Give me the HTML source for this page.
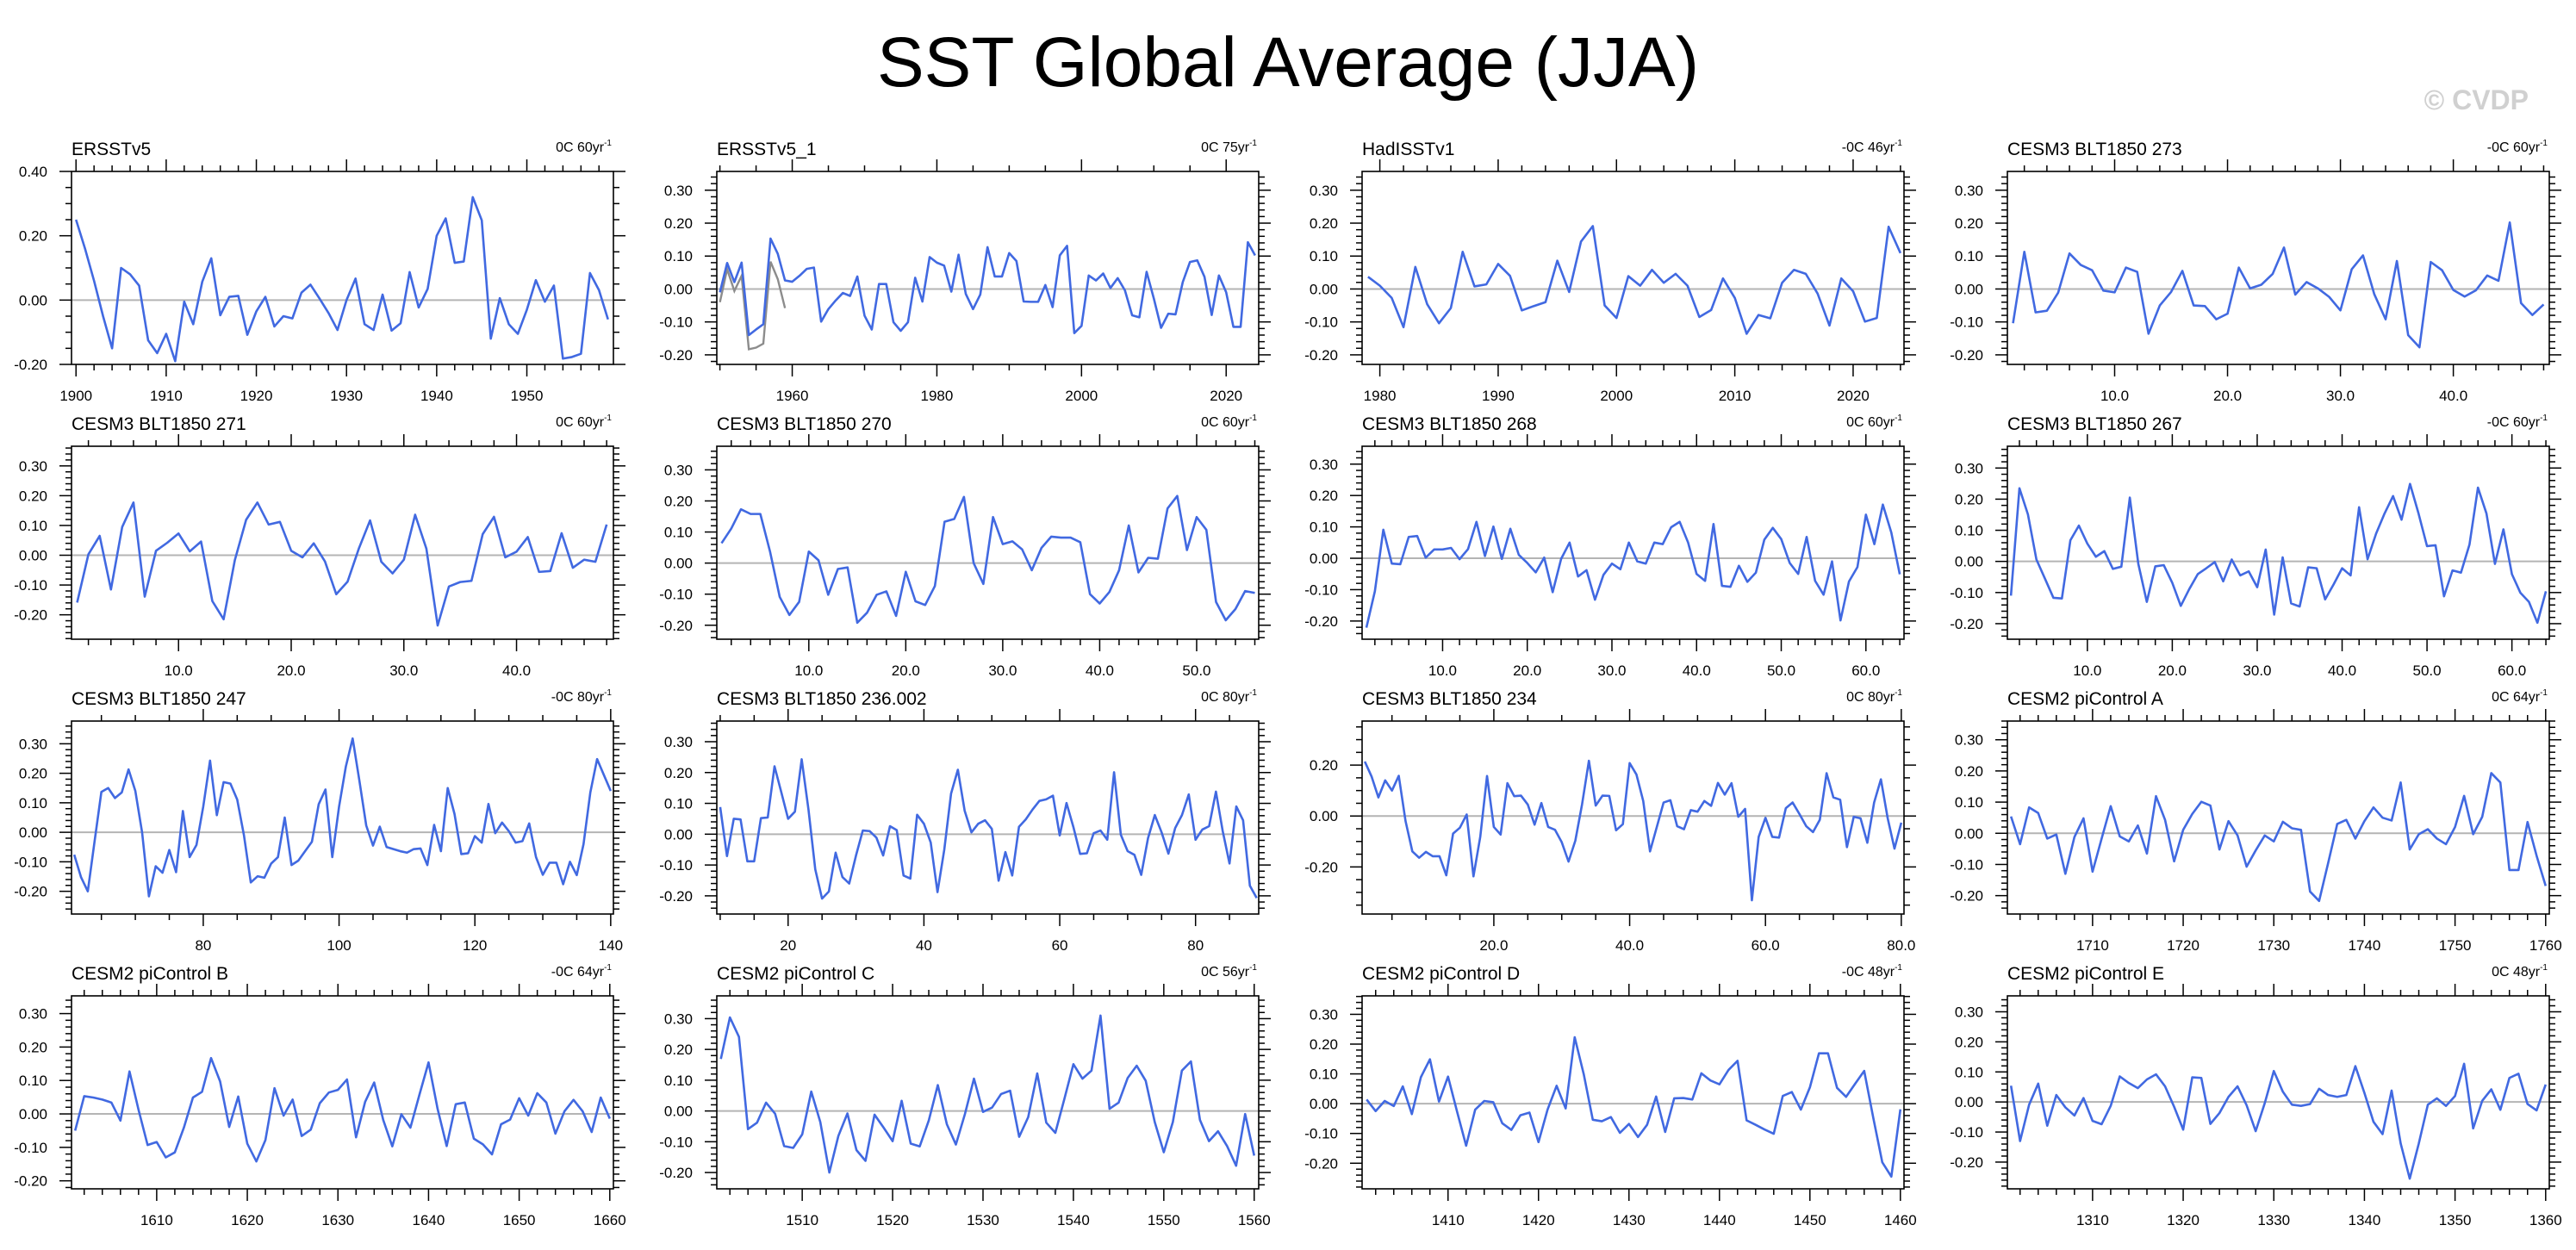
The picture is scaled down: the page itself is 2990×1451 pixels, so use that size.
<!DOCTYPE html>
<html><head><meta charset="utf-8"><style>
html,body{margin:0;padding:0;background:#fff;}
svg{display:block;font-family:"Liberation Sans",sans-serif;}
</style></head><body>
<svg id="chart" width="2990" height="1451" viewBox="0 0 2990 1451" xmlns="http://www.w3.org/2000/svg">
<rect x="0" y="0" width="2990" height="1451" fill="#fff"/>
<text x="1495" y="100" font-size="82" text-anchor="middle" fill="#000">SST Global Average (JJA)</text>
<text x="2935" y="127" font-size="32" font-weight="bold" text-anchor="end" fill="#d0d0d0">© CVDP</text>
<g id="panels"></g>
</svg>
<script>
const titles = ["ERSSTv5","ERSSTv5_1","HadISSTv1","CESM3 BLT1850 273","CESM3 BLT1850 271","CESM3 BLT1850 270","CESM3 BLT1850 268","CESM3 BLT1850 267","CESM3 BLT1850 247","CESM3 BLT1850 236.002","CESM3 BLT1850 234","CESM2 piControl A","CESM2 piControl B","CESM2 piControl C","CESM2 piControl D","CESM2 piControl E"];
const trendLabels = ["0C 60yr","0C 75yr","-0C 46yr","-0C 60yr","0C 60yr","0C 60yr","0C 60yr","-0C 60yr","-0C 80yr","0C 80yr","0C 80yr","0C 64yr","-0C 64yr","0C 56yr","-0C 48yr","0C 48yr"];
const xStarts = [1900,1950,1979,1,1,1,1,1,61,10,1,1701,1601,1501,1401,1301];
const xMins = [1899.5,1949.57,1978.5,0.5,0.5,0.51,0.49,0.58,60.6,9.5,0.6,1700.6,1600.6,1500.55,1400.5,1300.6];
const xMaxs = [1959.6,2024.5,2024.3,48.5,48.6,56.4,64.5,64.4,140.4,89.3,80.4,1760.4,1660.4,1560.5,1460.4,1360.4];
const yMins = [-0.2,-0.229,-0.229,-0.229,-0.282,-0.245,-0.258,-0.25,-0.277,-0.259,-0.385,-0.259,-0.224,-0.253,-0.286,-0.289];
const yMaxs = [0.4,0.357,0.357,0.357,0.366,0.376,0.357,0.37,0.377,0.367,0.373,0.36,0.353,0.374,0.362,0.353];
const xMajor = [10,20,10,10,10,10,10,10,20,20,20,10,10,10,10,10];
const xMinor = [2,5,2,2,2,2,2,2,5,5,5,2,2,2,2,2];
const xDecimals = [0,0,0,1,1,1,1,1,0,0,1,0,0,0,0,0];
const yMajor = [0.2,0.1,0.1,0.1,0.1,0.1,0.1,0.1,0.1,0.1,0.2,0.1,0.1,0.1,0.1,0.1];
const yMinor = [0.05,0.02,0.02,0.02,0.02,0.02,0.02,0.02,0.02,0.02,0.05,0.02,0.02,0.02,0.02,0.02];

const s1 = [0.25,0.16,0.06,-0.05,-0.15,0.10,0.08,0.045,-0.125,-0.165,-0.105,-0.19,-0.005,-0.075,0.057,0.13,-0.047,0.01,0.013,-0.108,-0.035,0.01,-0.082,-0.05,-0.057,0.023,0.048,0.005,-0.04,-0.093,0,0.067,-0.075,-0.093,0.017,-0.095,-0.072,0.087,-0.023,0.035,0.2,0.254,0.116,0.12,0.32,0.248,-0.12,0.006,-0.075,-0.105,-0.03,0.062,-0.005,0.045,-0.182,-0.177,-0.167,0.084,0.031,-0.06];
const s2 = [-0.01,0.079,0.021,0.08,-0.14,-0.123,-0.107,0.153,0.107,0.026,0.022,0.04,0.061,0.065,-0.099,-0.061,-0.035,-0.012,-0.021,0.038,-0.081,-0.123,0.015,0.015,-0.101,-0.127,-0.101,0.034,-0.038,0.097,0.08,0.071,-0.008,0.104,-0.015,-0.061,-0.017,0.127,0.038,0.038,0.109,0.085,-0.038,-0.039,-0.039,0.012,-0.055,0.102,0.131,-0.134,-0.112,0.041,0.026,0.047,0.003,0.033,-0.004,-0.08,-0.086,0.052,-0.029,-0.118,-0.075,-0.077,0.021,0.082,0.087,0.037,-0.079,0.041,-0.01,-0.115,-0.115,0.142,0.102];
const s2obs = [-0.04,0.06,-0.006,0.04,-0.183,-0.178,-0.166,0.083,0.03,-0.058];
const s3 = [0.037,0.01,-0.027,-0.116,0.067,-0.046,-0.104,-0.058,0.113,0.008,0.014,0.076,0.04,-0.065,-0.052,-0.04,0.086,-0.009,0.144,0.191,-0.05,-0.088,0.039,0.01,0.058,0.019,0.046,0.01,-0.085,-0.064,0.032,-0.027,-0.136,-0.079,-0.089,0.019,0.058,0.046,-0.014,-0.111,0.032,-0.007,-0.099,-0.088,0.189,0.109];
const s4 = [-0.104,0.113,-0.071,-0.066,-0.011,0.108,0.073,0.057,-0.005,-0.01,0.065,0.052,-0.136,-0.05,-0.009,0.055,-0.05,-0.052,-0.092,-0.075,0.065,0.002,0.013,0.046,0.126,-0.017,0.021,0.002,-0.024,-0.065,0.06,0.102,-0.016,-0.092,0.085,-0.14,-0.177,0.082,0.057,-0.003,-0.023,-0.004,0.041,0.025,0.202,-0.043,-0.079,-0.047];
const s5 = [-0.159,0.003,0.065,-0.115,0.095,0.177,-0.139,0.015,0.042,0.073,0.013,0.046,-0.154,-0.215,-0.016,0.119,0.177,0.103,0.112,0.015,-0.007,0.04,-0.021,-0.131,-0.089,0.022,0.117,-0.022,-0.061,-0.015,0.136,0.022,-0.236,-0.105,-0.09,-0.086,0.071,0.129,-0.007,0.012,0.061,-0.056,-0.053,0.074,-0.042,-0.015,-0.022,0.103];
const s6 = [0.064,0.111,0.173,0.158,0.158,0.037,-0.109,-0.167,-0.125,0.037,0.009,-0.102,-0.019,-0.014,-0.192,-0.16,-0.102,-0.091,-0.17,-0.028,-0.123,-0.135,-0.074,0.133,0.142,0.213,0,-0.067,0.148,0.061,0.07,0.044,-0.023,0.049,0.085,0.082,0.082,0.067,-0.1,-0.13,-0.093,-0.023,0.121,-0.03,0.017,0.014,0.176,0.216,0.042,0.148,0.107,-0.125,-0.184,-0.148,-0.09,-0.096];
const s7 = [-0.221,-0.105,0.091,-0.017,-0.019,0.068,0.071,0.002,0.028,0.028,0.033,-0.003,0.029,0.116,0.007,0.101,-0.002,0.094,0.011,-0.015,-0.045,0.002,-0.108,-0.002,0.05,-0.058,-0.038,-0.132,-0.053,-0.017,-0.035,0.05,-0.01,-0.017,0.05,0.045,0.099,0.116,0.05,-0.05,-0.072,0.109,-0.088,-0.091,-0.024,-0.075,-0.046,0.059,0.097,0.061,-0.015,-0.05,0.068,-0.072,-0.116,-0.01,-0.198,-0.074,-0.028,0.139,0.045,0.171,0.082,-0.051];
const s8 = [-0.11,0.235,0.151,0.006,-0.055,-0.117,-0.119,0.068,0.115,0.057,0.015,0.033,-0.024,-0.017,0.205,-0.008,-0.13,-0.016,-0.012,-0.069,-0.143,-0.089,-0.041,-0.022,-0.002,-0.064,0.006,-0.045,-0.032,-0.083,0.038,-0.171,0.013,-0.135,-0.145,-0.019,-0.022,-0.122,-0.074,-0.022,-0.045,0.174,0.007,0.089,0.154,0.21,0.134,0.249,0.154,0.049,0.052,-0.112,-0.029,-0.036,0.054,0.237,0.154,-0.008,0.103,-0.041,-0.101,-0.13,-0.197,-0.096];
const s9 = [-0.076,-0.152,-0.2,-0.03,0.137,0.15,0.116,0.135,0.213,0.14,-0.001,-0.217,-0.115,-0.137,-0.06,-0.135,0.072,-0.084,-0.043,0.087,0.243,0.058,0.17,0.165,0.111,-0.011,-0.17,-0.149,-0.154,-0.106,-0.084,0.05,-0.111,-0.096,-0.064,-0.032,0.095,0.145,-0.084,0.087,0.223,0.318,0.174,0.023,-0.045,0.019,-0.05,-0.057,-0.064,-0.069,-0.057,-0.055,-0.111,0.025,-0.064,0.15,0.062,-0.074,-0.071,-0.013,-0.035,0.096,-0.003,0.033,0.004,-0.035,-0.03,0.03,-0.084,-0.144,-0.103,-0.103,-0.176,-0.1,-0.145,-0.04,0.135,0.248,0.194,0.14];
const s10 = [0.088,-0.071,0.05,0.048,-0.088,-0.088,0.052,0.054,0.22,0.136,0.05,0.073,0.243,0.08,-0.114,-0.209,-0.186,-0.06,-0.139,-0.16,-0.069,0.012,0.01,-0.011,-0.069,0.026,0.013,-0.134,-0.144,0.063,0.034,-0.027,-0.188,-0.05,0.132,0.209,0.076,0.006,0.034,0.045,0.017,-0.151,-0.058,-0.134,0.024,0.048,0.08,0.108,0.113,0.125,-0.004,0.101,0.024,-0.064,-0.062,0.003,0.012,-0.018,0.201,-0.002,-0.055,-0.067,-0.132,-0.013,0.062,0.006,-0.063,0.02,0.062,0.129,-0.018,0.015,0.026,0.138,0.01,-0.095,0.09,0.045,-0.167,-0.207];
const s11 = [0.214,0.155,0.073,0.14,0.1,0.158,-0.02,-0.139,-0.164,-0.141,-0.158,-0.158,-0.233,-0.069,-0.046,0.006,-0.237,-0.082,0.157,-0.043,-0.073,0.129,0.078,0.08,0.045,-0.034,0.051,-0.043,-0.054,-0.103,-0.179,-0.097,0.047,0.217,0.041,0.08,0.079,-0.056,-0.032,0.208,0.163,0.059,-0.139,-0.043,0.053,0.062,-0.04,-0.052,0.023,0.017,0.059,0.04,0.13,0.084,0.129,-0.003,0.028,-0.331,-0.082,-0.007,-0.082,-0.085,0.031,0.053,0.008,-0.04,-0.063,-0.015,0.168,0.073,0.064,-0.122,-0.003,-0.009,-0.105,0.053,0.144,-0.009,-0.128,-0.026];
const s12 = [0.054,-0.035,0.083,0.065,-0.017,-0.004,-0.13,-0.012,0.048,-0.123,-0.017,0.087,-0.01,-0.026,0.025,-0.065,0.119,0.043,-0.09,0.011,0.062,0.101,0.089,-0.052,0.039,-0.007,-0.107,-0.055,-0.007,-0.026,0.037,0.016,0.011,-0.187,-0.217,-0.095,0.03,0.043,-0.017,0.039,0.083,0.05,0.041,0.163,-0.052,-0.003,0.013,-0.017,-0.035,0.02,0.12,-0.003,0.053,0.193,0.163,-0.118,-0.118,0.036,-0.072,-0.169];
const s13 = [-0.05,0.053,0.049,0.043,0.034,-0.02,0.127,0.012,-0.093,-0.084,-0.13,-0.115,-0.041,0.049,0.066,0.167,0.097,-0.039,0.052,-0.089,-0.142,-0.078,0.077,-0.005,0.043,-0.066,-0.047,0.032,0.064,0.072,0.103,-0.07,0.036,0.094,-0.018,-0.097,-0.001,-0.041,0.058,0.154,0.015,-0.096,0.029,0.034,-0.074,-0.091,-0.121,-0.031,-0.017,0.047,-0.005,0.062,0.034,-0.059,0.008,0.042,0.008,-0.054,0.049,-0.014];
const s14 = [0.169,0.304,0.241,-0.059,-0.038,0.027,-0.009,-0.114,-0.12,-0.076,0.063,-0.036,-0.2,-0.081,-0.008,-0.127,-0.162,-0.012,-0.054,-0.098,0.033,-0.106,-0.115,-0.031,0.084,-0.043,-0.109,-0.01,0.105,-0.003,0.011,0.055,0.066,-0.084,-0.02,0.122,-0.038,-0.071,0.039,0.152,0.105,0.131,0.31,0.007,0.027,0.107,0.147,0.098,-0.036,-0.134,-0.036,0.131,0.161,-0.029,-0.098,-0.066,-0.114,-0.178,-0.01,-0.145];
const s15 = [0.014,-0.025,0.009,-0.008,0.058,-0.035,0.089,0.149,0.007,0.091,-0.027,-0.141,-0.02,0.009,0.005,-0.066,-0.088,-0.039,-0.03,-0.129,-0.02,0.06,-0.016,0.223,0.099,-0.054,-0.059,-0.045,-0.098,-0.068,-0.112,-0.071,0.024,-0.095,0.018,0.019,0.014,0.102,0.078,0.065,0.113,0.144,-0.056,-0.071,-0.087,-0.101,0.026,0.039,-0.02,0.055,0.169,0.169,0.053,0.023,0.067,0.11,-0.047,-0.197,-0.245,-0.019];
const s16 = [0.054,-0.13,-0.009,0.061,-0.079,0.023,-0.018,-0.045,0.013,-0.063,-0.074,-0.013,0.085,0.063,0.046,0.075,0.092,0.052,-0.016,-0.092,0.082,0.08,-0.073,-0.037,0.017,0.052,-0.011,-0.097,-0.004,0.103,0.034,-0.009,-0.013,-0.007,0.044,0.023,0.017,0.023,0.119,0.03,-0.066,-0.107,0.038,-0.138,-0.255,-0.138,-0.009,0.012,-0.013,0.02,0.127,-0.088,0.004,0.042,-0.026,0.08,0.094,-0.007,-0.028,0.058];
const seriesList = [s1,s2,s3,s4,s5,s6,s7,s8,s9,s10,s11,s12,s13,s14,s15,s16];

const NS = "http://www.w3.org/2000/svg";
const colLefts = [83,832,1581,2330];
const rowTops = [199,518,837,1156];
const PW = 629, PH = 224;
const root = document.getElementById('panels');
function mk(tag, attrs, parent){ const e=document.createElementNS(NS,tag); for(const k in attrs) e.setAttribute(k,attrs[k]); parent.appendChild(e); return e; }

function linePath(vals, x0, sx, sy){
  let d = "";
  vals.forEach((v,i)=>{ d += (i?"L":"M") + sx(x0+i).toFixed(2) + "," + sy(v).toFixed(2); });
  return d;
}

for(let p=0;p<16;p++){
  const L = colLefts[p%4], T = rowTops[Math.floor(p/4)];
  const R = L+PW, B = T+PH;
  const sx = v => L + (v - xMins[p])/(xMaxs[p]-xMins[p])*PW;
  const sy = v => B - (v - yMins[p])/(yMaxs[p]-yMins[p])*PH;
  const g = mk('g',{},root);
  
  

  const t = mk('text',{x:L,y:T-19,'font-size':21,fill:'#000'},g);
  t.textContent = titles[p];
  
  

  const tr = mk('text',{x:R-2,y:T-23,'font-size':16,'text-anchor':'end',fill:'#000'},g);
  
  
  tr.appendChild(document.createTextNode(trendLabels[p]));
  const sup = mk('tspan',{'font-size':10,dy:-7},tr);
  sup.textContent = "-1";

  const z = mk('line',{x1:L,x2:R,y1:sy(0),y2:sy(0),stroke:'#b4b4b4','stroke-width':2},g);
  
  

  const xt = mk('g',{stroke:'#000','stroke-width':1.5},g);
  
  
  const xl = mk('g',{'font-size':17,'text-anchor':'middle',fill:'#000'},g);
  
  
  const mn = xMinor[p], mj = xMajor[p];
  for(let v=Math.ceil(xMins[p]/mn)*mn; v<=xMaxs[p]+1e-9; v+=mn){
    const isMaj = Math.abs(v/mj - Math.round(v/mj))<1e-6;
    const X = sx(v), len = isMaj?14:7;
    mk('line',{x1:X,x2:X,y1:B,y2:B+len},xt);
    mk('line',{x1:X,x2:X,y1:T,y2:T-len},xt);
    if(isMaj){
      const lt = mk('text',{x:X,y:B+42},xl);
      lt.textContent = v.toFixed(xDecimals[p]);
    }
  }
  const yt = mk('g',{stroke:'#000','stroke-width':1.5},g);
  
  
  const yl = mk('g',{'font-size':17,'text-anchor':'end',fill:'#000'},g);
  
  
  const ymn = yMinor[p], ymj = yMajor[p];
  for(let k=Math.ceil(yMins[p]/ymn-1e-6); k*ymn<=yMaxs[p]+1e-9; k++){
    const v = k*ymn;
    const isMaj = Math.abs(v/ymj - Math.round(v/ymj))<1e-6;
    const Y = sy(v), len = isMaj?14:7;
    mk('line',{x1:L,x2:L-len,y1:Y,y2:Y},yt);
    mk('line',{x1:R,x2:R+len,y1:Y,y2:Y},yt);
    if(isMaj){
      const lt = mk('text',{x:L-28,y:Y+6},yl);
      lt.textContent = (Math.abs(v)<1e-9?0:v).toFixed(2);
    }
  }

  if(p===1){
    const go = mk('path',{d:linePath(s2obs,xStarts[p],sx,sy),fill:'none',stroke:'#8c8c8c','stroke-width':2.4},g);
    
    
  }
  const ln = mk('path',{d:linePath(seriesList[p],xStarts[p],sx,sy),fill:'none',stroke:'#4169e1','stroke-width':2.6,'stroke-linejoin':'round'},g);
  
  

  const fr = mk('rect',{x:L,y:T,width:PW,height:PH,fill:'none',stroke:'#000','stroke-width':1.6},g);
  
  
}
</script>
</body></html>
